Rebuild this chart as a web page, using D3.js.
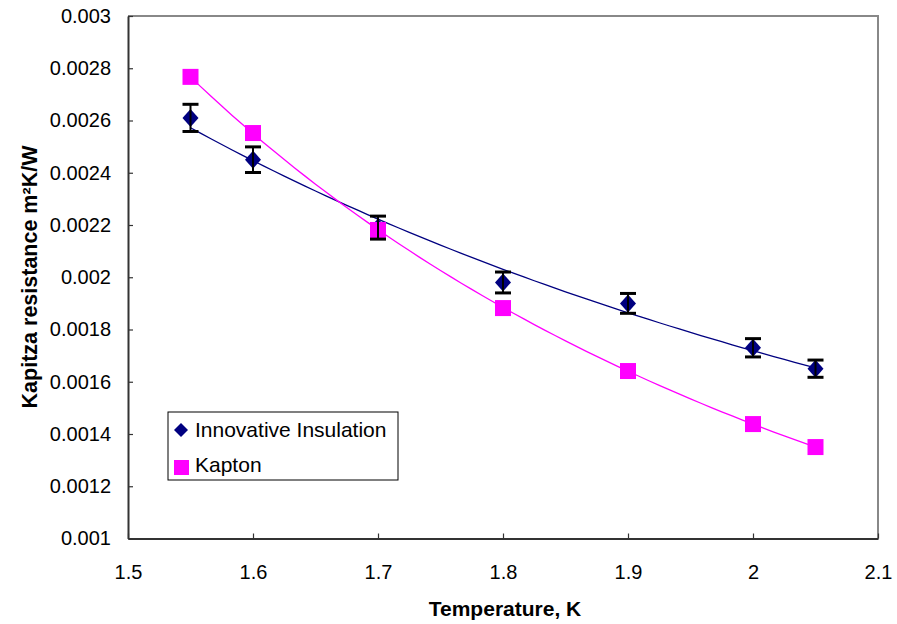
<!DOCTYPE html>
<html>
<head>
<meta charset="utf-8">
<script src="https://cdn.jsdelivr.net/npm/d3@7"></script>
<style>
  body { margin: 0; background: #fff; }
  text { font-family: Arial, "Liberation Sans", sans-serif; }
</style>
</head>
<body>
<script>
const WIDTH = 897;
const HEIGHT = 624;

// Data
const temps = [1.55, 1.6, 1.7, 1.8, 1.9, 2.0, 2.05];
const insulation = [0.00261, 0.00245, 0.00219, 0.00198, 0.00190, 0.00173, 0.00165];
const insulationErr = [0.000052, 0.000049, 0.000044, 0.000040, 0.000038, 0.000035, 0.000033];
const kapton = [0.002767, 0.002552, 0.002181, 0.001882, 0.001641, 0.001438, 0.00135];

const xTicks = [1.5, 1.6, 1.7, 1.8, 1.9, 2.0, 2.1];
const xTickLabels = ["1.5", "1.6", "1.7", "1.8", "1.9", "2", "2.1"];
const yTicks = [0.001, 0.0012, 0.0014, 0.0016, 0.0018, 0.002, 0.0022, 0.0024, 0.0026, 0.0028, 0.003];
const yTickLabels = ["0.001", "0.0012", "0.0014", "0.0016", "0.0018", "0.002", "0.0022", "0.0024", "0.0026", "0.0028", "0.003"];

const seriesNames = ["Innovative Insulation", "Kapton"];
const colors = { ins: "#000080", kap: "#FF00FF" };

const plot = { left: 128, right: 878, top: 16, bottom: 538.5 };

const x = d3.scaleLinear().domain([1.5, 2.1]).range([plot.left, plot.right]);
const y = d3.scaleLinear().domain([0.001, 0.003]).range([plot.bottom, plot.top]);

// Power-law trend line, like the spreadsheet's trendline
function powerFit(xs, ys) {
    const lx = xs.map(Math.log), ly = ys.map(Math.log);
    const mx = d3.mean(lx), my = d3.mean(ly);
    let num = 0, den = 0;
    for (let i = 0; i < lx.length; i++) {
        num += (lx[i] - mx) * (ly[i] - my);
        den += (lx[i] - mx) * (lx[i] - mx);
    }
    const b = num / den;
    const a = Math.exp(my - b * mx);
    return t => a * Math.pow(t, b);
}

function trendPoints(f) {
    const lo = d3.min(temps), hi = d3.max(temps);
    return d3.range(0, 61).map(i => {
        const t = lo + (hi - lo) * i / 60;
        return [t, f(t)];
    });
}

const svg = d3.select("body").append("svg")
    .attr("width", WIDTH).attr("height", HEIGHT);

// Plot frame: top and right in grey
svg.append("path")
    .attr("d", `M${plot.left},${plot.top}H${plot.right}V${plot.bottom}`)
    .attr("fill", "none").attr("stroke", "#888").attr("stroke-width", 2);

// Axes
const xAxis = d3.axisBottom(x)
    .tickValues(xTicks)
    .tickFormat((d, i) => xTickLabels[i])
    .tickSizeInner(-5).tickSizeOuter(0).tickPadding(26);

const yAxis = d3.axisLeft(y)
    .tickValues(yTicks)
    .tickFormat((d, i) => yTickLabels[i])
    .tickSizeInner(-5).tickSizeOuter(0).tickPadding(17);

const gx = svg.append("g").attr("transform", `translate(0,${plot.bottom})`).call(xAxis);
const gy = svg.append("g").attr("transform", `translate(${plot.left},0)`).call(yAxis);

[gx, gy].forEach(g => {
    g.select(".domain").attr("stroke", "#333").attr("stroke-width", 2);
    g.selectAll(".tick line").attr("stroke", "#333").attr("stroke-width", 1.2);
    g.selectAll(".tick text").attr("font-size", 20).attr("fill", "#000")
        .attr("font-family", "Arial, 'Liberation Sans', sans-serif");
});

// Axis titles
svg.append("text")
    .attr("x", 505).attr("y", 616)
    .attr("text-anchor", "middle")
    .attr("font-size", 21).attr("font-weight", "bold")
    .text("Temperature, K");

svg.append("text")
    .attr("transform", "translate(37,277) rotate(-90)")
    .attr("text-anchor", "middle")
    .attr("font-size", 21.5).attr("font-weight", "bold")
    .text("Kapitza resistance m\u00B2K/W");

// Trend lines
const line = d3.line().x(d => x(d[0])).y(d => y(d[1]));

svg.append("path")
    .datum(trendPoints(powerFit(temps, insulation)))
    .attr("d", line)
    .attr("fill", "none").attr("stroke", colors.ins).attr("stroke-width", 1.3);

svg.append("path")
    .datum(trendPoints(powerFit(temps, kapton)))
    .attr("d", line)
    .attr("fill", "none").attr("stroke", colors.kap).attr("stroke-width", 1.3);

const insData = temps.map((t, i) => ({ t: t, v: insulation[i], e: insulationErr[i] }));
const kapData = temps.map((t, i) => ({ t: t, v: kapton[i] }));

// Diamonds
svg.append("g").selectAll("path")
    .data(insData).enter()
    .append("path")
    .attr("d", d => {
        const cx = x(d.t), cy = y(d.v);
        return `M${cx},${cy - 9}L${cx + 8},${cy}L${cx},${cy + 9}L${cx - 8},${cy}Z`;
    })
    .attr("fill", colors.ins);

// Squares
svg.append("g").selectAll("rect")
    .data(kapData).enter()
    .append("rect")
    .attr("x", d => x(d.t) - 8)
    .attr("y", d => y(d.v) - 8)
    .attr("width", 16).attr("height", 16)
    .attr("fill", colors.kap);

// Error bars
const eb = svg.append("g").selectAll("g")
    .data(insData).enter()
    .append("g")
    .attr("stroke", "#000");

eb.append("line")
    .attr("x1", d => x(d.t)).attr("x2", d => x(d.t))
    .attr("y1", d => y(d.v + d.e)).attr("y2", d => y(d.v - d.e))
    .attr("stroke-width", 2);

eb.append("line")
    .attr("x1", d => x(d.t) - 8).attr("x2", d => x(d.t) + 8)
    .attr("y1", d => y(d.v + d.e)).attr("y2", d => y(d.v + d.e))
    .attr("stroke-width", 3);

eb.append("line")
    .attr("x1", d => x(d.t) - 8).attr("x2", d => x(d.t) + 8)
    .attr("y1", d => y(d.v - d.e)).attr("y2", d => y(d.v - d.e))
    .attr("stroke-width", 3);

// Legend
const legend = svg.append("g");
legend.append("rect")
    .attr("x", 168).attr("y", 412).attr("width", 230).attr("height", 68)
    .attr("fill", "#fff").attr("stroke", "#000").attr("stroke-width", 1);

legend.append("path")
    .attr("d", "M181,423L188,430L181,437L174,430Z")
    .attr("fill", colors.ins);
legend.append("rect")
    .attr("x", 174).attr("y", 460).attr("width", 15).attr("height", 15)
    .attr("fill", colors.kap);

legend.selectAll("text.lbl")
    .data(seriesNames).enter()
    .append("text")
    .attr("class", "lbl")
    .attr("x", 195)
    .attr("y", (d, i) => 437 + i * 35)
    .attr("font-size", 21)
    .text(d => d);
</script>
</body>
</html>
